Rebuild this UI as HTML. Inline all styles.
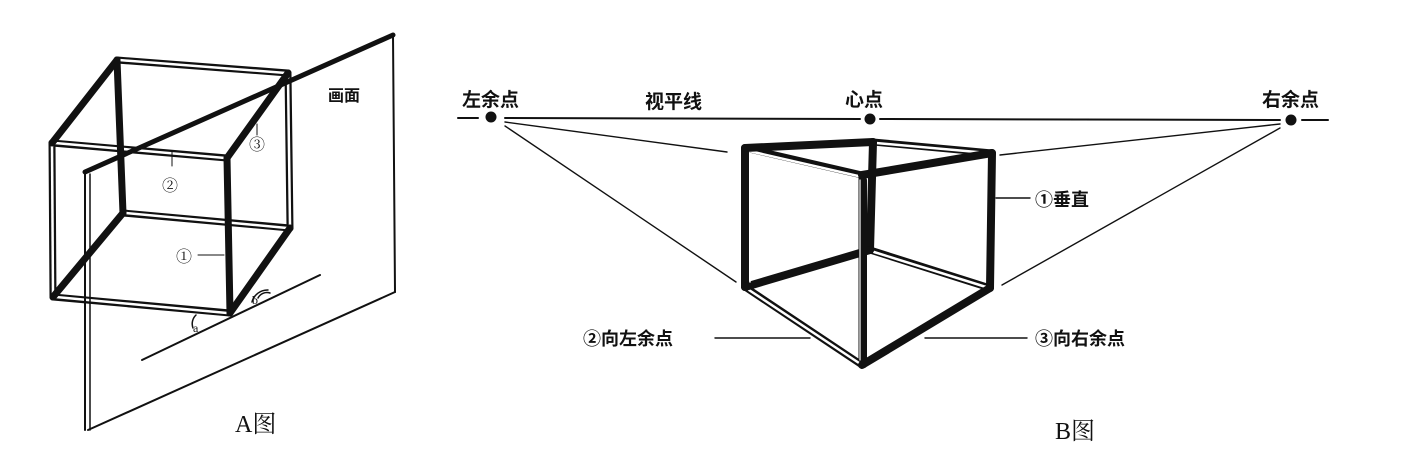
<!DOCTYPE html>
<html><head><meta charset="utf-8"><style>
html,body{margin:0;padding:0;background:#fff;width:1425px;height:466px;overflow:hidden}
svg{display:block}
text{font-family:"Liberation Serif","Noto Serif CJK SC","Noto Sans CJK SC",serif;fill:#111}
.cj{font-family:"Noto Sans CJK SC","WenQuanYi Zen Hei",sans-serif;font-weight:bold}
</style></head><body>
<svg width="1425" height="466" viewBox="0 0 1425 466" xmlns="http://www.w3.org/2000/svg">
<g stroke="#111" fill="none" stroke-linecap="round" stroke-linejoin="round">
<!-- ===== A figure ===== -->
<g stroke-width="7">
<line x1="117" y1="60" x2="288" y2="73"/>
<line x1="52" y1="143" x2="227" y2="158"/>
<line x1="52" y1="143" x2="53" y2="297"/>
<line x1="288" y1="73" x2="290" y2="228"/>
<line x1="123" y1="213" x2="290" y2="228"/>
<line x1="53" y1="297" x2="230" y2="313"/>
</g>
<g stroke="#fff" stroke-width="2.5">
<line x1="119" y1="60" x2="286" y2="73"/>
<line x1="55" y1="143" x2="225" y2="158"/>
<line x1="52" y1="146" x2="53" y2="294"/>
<line x1="288" y1="76" x2="290" y2="225"/>
<line x1="126" y1="213" x2="287" y2="228"/>
<line x1="56" y1="297" x2="227" y2="313"/>
</g>
<g stroke-width="7">
<line x1="117" y1="60" x2="123" y2="213"/>
<line x1="52" y1="143" x2="117" y2="60"/>
<line x1="227" y1="158" x2="230" y2="313"/>
<line x1="227" y1="158" x2="288" y2="73"/>
<line x1="230" y1="313" x2="290" y2="228"/>
<line x1="53" y1="297" x2="123" y2="213"/>
</g>
<line x1="85" y1="172" x2="393" y2="35" stroke-width="5"/>
<line x1="393" y1="35" x2="395" y2="292" stroke-width="2"/>
<line x1="395" y1="292" x2="88" y2="430" stroke-width="2"/>
<line x1="85" y1="172" x2="85" y2="430" stroke-width="2"/>
<line x1="90" y1="174" x2="90" y2="430" stroke-width="1.5"/>
<line x1="142" y1="360" x2="320" y2="275" stroke-width="2"/>
<path d="M193 328 A12 12 0 0 1 196 315" stroke-width="1.5"/>
<path d="M252 302 A16 16 0 0 1 268 290" stroke-width="1.5"/>
<path d="M258 298 A10 10 0 0 1 270 293" stroke-width="1.5"/>
<line x1="172" y1="151" x2="172" y2="166" stroke-width="1"/>
<line x1="257" y1="124" x2="257" y2="135" stroke-width="1"/>
<line x1="198" y1="255" x2="224" y2="255" stroke-width="1"/>

<!-- ===== B figure ===== -->
<g stroke-width="2">
<line x1="458" y1="118" x2="478" y2="118"/>
<line x1="505" y1="118" x2="860" y2="119"/>
<line x1="880" y1="119" x2="1280" y2="120"/>
<line x1="1302" y1="120" x2="1328" y2="120"/>
</g>
<g stroke-width="1.4">
<line x1="505" y1="122" x2="727" y2="152"/>
<line x1="505" y1="126" x2="736" y2="282"/>
<line x1="1280" y1="124" x2="1000" y2="155"/>
<line x1="1280" y1="128" x2="1002" y2="285"/>
<line x1="1030" y1="198" x2="996" y2="198"/>
<line x1="715" y1="338" x2="810" y2="338"/>
<line x1="925" y1="338" x2="1027" y2="338"/>
</g>
<g stroke-width="7">
<line x1="745" y1="148" x2="862" y2="175"/>
<line x1="873" y1="142" x2="992" y2="153"/>
<line x1="870" y1="250" x2="990" y2="288"/>
<line x1="745" y1="287" x2="862" y2="365"/>
<line x1="862" y1="175" x2="862" y2="365"/>
</g>
<g stroke="#fff" stroke-width="2.5">
<line x1="749" y1="151" x2="858" y2="176"/>
<line x1="876" y1="143" x2="988" y2="153"/>
<line x1="874" y1="252" x2="986" y2="287"/>
<line x1="749" y1="290" x2="859" y2="363"/>
</g>
<g stroke-width="8">
<line x1="745" y1="148" x2="745" y2="287"/>
<line x1="745" y1="148" x2="873" y2="142"/>
<line x1="873" y1="142" x2="870" y2="250"/>
<line x1="992" y1="153" x2="990" y2="288"/>
<line x1="862" y1="175" x2="992" y2="153"/>
<line x1="745" y1="287" x2="870" y2="250"/>
<line x1="862" y1="365" x2="990" y2="288"/>
<line x1="864" y1="180" x2="864" y2="365" stroke-width="6"/>
</g>
<line x1="750" y1="155" x2="750" y2="282" stroke="#fff" stroke-width="1.5"/>
<line x1="860" y1="180" x2="860" y2="360" stroke="#fff" stroke-width="1.2"/>
</g>
<g fill="#111">
<circle cx="491" cy="117" r="5.5"/>
<circle cx="870" cy="119" r="5.5"/>
<circle cx="1291" cy="120" r="5.5"/>
</g>
<text x="328" y="101" class="cj" font-size="16">画面</text>
<text x="162" y="191" font-size="16">②</text>
<text x="249" y="150" font-size="16">③</text>
<text x="176" y="262" font-size="16">①</text>
<text x="193" y="332" font-size="12">a</text>
<text x="252" y="304" font-size="12">b</text>
<text x="235" y="432" font-size="24">A<tspan font-family="Noto Serif CJK SC,serif">图</tspan></text>
<text x="462" y="106" class="cj" font-size="19">左余点</text>
<text x="645" y="108" class="cj" font-size="19">视平线</text>
<text x="845" y="106" class="cj" font-size="19">心点</text>
<text x="1262" y="106" class="cj" font-size="19">右余点</text>
<text x="1035" y="206" class="cj" font-size="18">①垂直</text>
<text x="583" y="345" class="cj" font-size="18">②向左余点</text>
<text x="1035" y="345" class="cj" font-size="18">③向右余点</text>
<text x="1055" y="439" font-size="24">B<tspan font-family="Noto Serif CJK SC,serif">图</tspan></text>
</svg>
</body></html>
